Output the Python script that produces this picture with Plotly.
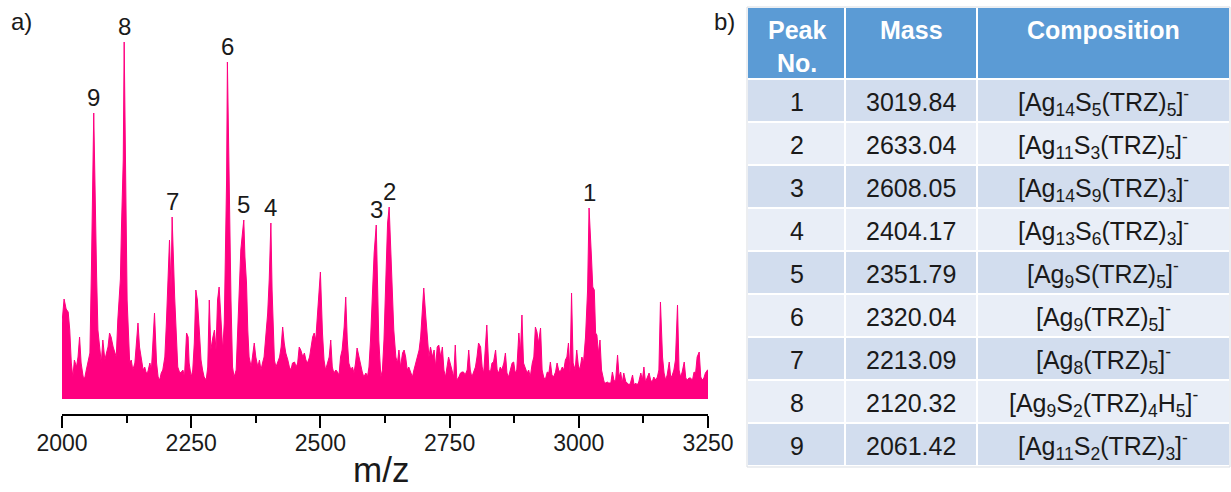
import plotly.graph_objects as go

# ---- ESI-MS spectrum (m/z, intensity in a.u.) ----
mz = [
    2000, 2004, 2008, 2012, 2015, 2018, 2021, 2024, 2028, 2031, 2034, 2037, 2041, 2044, 2047, 2050,
    2054, 2057, 2059, 2060, 2061.42, 2063, 2065, 2067, 2069.5, 2073, 2076, 2079, 2083, 2086, 2089,
    2092, 2095, 2099, 2102, 2105, 2108, 2111, 2113, 2115, 2117, 2118.5, 2120.32, 2122, 2124, 2126,
    2128, 2131, 2134, 2137, 2141, 2144, 2147, 2150, 2153, 2157, 2160, 2163, 2166, 2170, 2173, 2176,
    2179, 2183, 2186, 2189, 2192, 2195, 2199, 2202, 2205, 2208, 2211, 2213.09, 2218, 2221, 2224,
    2228, 2231, 2234, 2237, 2241, 2244, 2246, 2250, 2253, 2256, 2259, 2262, 2266, 2269, 2272, 2275,
    2279, 2282, 2285, 2288, 2292, 2295, 2298, 2301, 2304, 2308, 2311, 2314, 2317, 2318.5, 2320.04,
    2322, 2324.5, 2327, 2330, 2333, 2337, 2340, 2343, 2346, 2349, 2351.79, 2354, 2357, 2359.5, 2362,
    2366, 2369, 2372, 2375, 2379, 2382, 2385, 2388, 2391, 2395, 2398, 2401, 2404.17, 2406.5, 2409,
    2411, 2414, 2417, 2421, 2424, 2427, 2430, 2433, 2437, 2440, 2443, 2446, 2450, 2453, 2456, 2459,
    2462, 2466, 2469, 2472, 2475, 2479, 2482, 2485, 2488, 2491, 2494, 2497, 2500, 2504, 2507, 2510,
    2513, 2517, 2520, 2523, 2526, 2530, 2533, 2536, 2539, 2542, 2546, 2549, 2552, 2555, 2559, 2562,
    2565, 2568, 2571, 2575, 2578, 2581, 2584, 2588, 2591, 2594, 2597, 2600, 2604, 2608.05, 2610,
    2613, 2617, 2620, 2623, 2626, 2630, 2633.04, 2636, 2639, 2642, 2646, 2649, 2652, 2655, 2659,
    2662, 2665, 2668, 2671, 2675, 2678, 2681, 2684, 2688, 2691, 2694, 2697, 2700, 2704, 2707, 2710,
    2713, 2717, 2720, 2723, 2726, 2729, 2733, 2736, 2739, 2742, 2745, 2748, 2751, 2755, 2758, 2761,
    2764, 2768, 2771, 2774, 2777, 2780, 2784, 2787, 2790, 2793, 2797, 2800, 2803, 2806, 2810, 2813,
    2816, 2819, 2822, 2826, 2829, 2832, 2835, 2839, 2842, 2845, 2848, 2851, 2855, 2858, 2861, 2864,
    2868, 2871, 2874, 2877, 2880, 2884, 2887, 2890, 2893, 2897, 2900, 2903, 2906, 2910, 2913, 2916,
    2919, 2922, 2926, 2929, 2932, 2935, 2939, 2942, 2945, 2948, 2951, 2955, 2958, 2961, 2964, 2968,
    2971, 2974, 2977, 2980, 2983, 2986, 2989, 2993, 2996, 2999, 3002, 3006, 3009, 3013, 3017,
    3019.84, 3022, 3024.5, 3027, 3030, 3032.5, 3035, 3038, 3041, 3044, 3049, 3052, 3055, 3058, 3062,
    3065, 3068, 3071, 3075, 3078, 3081, 3084, 3087, 3091, 3094, 3097, 3100, 3104, 3107, 3110, 3113,
    3116, 3120, 3123, 3126, 3129, 3133, 3136, 3139, 3142, 3145, 3149, 3152, 3155, 3158, 3162, 3165,
    3168, 3171, 3175, 3178, 3181, 3184, 3187, 3191, 3194, 3197, 3200, 3204, 3207, 3210, 3213, 3216,
    3220, 3223, 3226, 3229, 3233, 3236, 3239, 3242, 3245, 3249, 3250,
]
intensity = [
    76, 100, 90, 87, 69, 36, 22, 39, 32, 42, 62, 36, 22, 21, 29, 36,
    46, 132, 200, 245, 286, 240, 166, 122, 69, 52, 36, 59, 39, 46, 52,
    66, 62, 52, 46, 42, 79, 109, 120, 170, 215, 239, 357, 240, 186, 99,
    76, 36, 39, 29, 36, 56, 76, 52, 42, 29, 32, 26, 27, 36, 29, 56,
    86, 36, 22, 19, 26, 29, 42, 76, 112, 159, 109, 182, 102, 59, 32,
    26, 27, 29, 22, 66, 62, 36, 22, 29, 56, 109, 99, 66, 39, 29, 22,
    19, 32, 99, 49, 62, 69, 49, 99, 112, 69, 49, 76, 169, 220, 337,
    256, 166, 99, 32, 22, 29, 69, 109, 149, 165, 179, 142, 116, 69, 42,
    32, 46, 56, 42, 32, 39, 29, 36, 42, 67, 86, 120, 176, 109, 69,
    39, 32, 36, 42, 52, 72, 56, 46, 39, 32, 29, 36, 37, 32, 36, 52,
    49, 42, 46, 39, 36, 42, 52, 62, 66, 59, 82, 109, 127, 66, 39, 29,
    36, 42, 59, 32, 26, 29, 27, 24, 42, 49, 72, 102, 59, 36, 29, 32,
    26, 36, 51, 42, 32, 27, 22, 26, 22, 32, 59, 96, 146, 174, 126,
    59, 22, 29, 59, 119, 176, 192, 149, 102, 69, 42, 36, 49, 32, 46,
    49, 42, 29, 32, 27, 22, 29, 36, 42, 49, 62, 82, 111, 82, 56, 42,
    52, 42, 49, 32, 52, 54, 42, 52, 29, 22, 32, 42, 36, 29, 22, 54,
    19, 22, 26, 27, 27, 24, 29, 49, 29, 22, 29, 32, 42, 56, 52, 32,
    26, 46, 74, 29, 27, 36, 37, 49, 29, 26, 32, 29, 36, 46, 26, 22,
    29, 36, 37, 26, 29, 66, 46, 84, 36, 29, 26, 29, 22, 36, 42, 72,
    67, 56, 71, 29, 22, 19, 27, 26, 37, 24, 22, 27, 36, 29, 27, 32,
    29, 39, 42, 56, 26, 106, 36, 29, 49, 34, 29, 42, 36, 62, 109,
    191, 159, 142, 112, 109, 66, 64, 46, 59, 29, 17, 16, 17, 16, 16,
    27, 19, 17, 44, 22, 27, 16, 26, 17, 16, 14, 16, 24, 14, 16, 14,
    17, 26, 19, 32, 17, 22, 26, 19, 17, 22, 19, 22, 29, 97, 42, 26,
    19, 24, 37, 21, 24, 29, 39, 94, 29, 22, 27, 37, 21, 19, 21, 21,
    19, 27, 26, 42, 47, 22, 19, 21, 26, 29, 29,
]

# ---- assigned peaks ----
peak_no = [1, 2, 3, 4, 5, 6, 7, 8, 9]
peak_mass = [3019.84, 2633.04, 2608.05, 2404.17, 2351.79, 2320.04, 2213.09, 2120.32, 2061.42]
composition = [
    "[Ag<sub>14</sub>S<sub>5</sub>(TRZ)<sub>5</sub>]<sup>-</sup>",
    "[Ag<sub>11</sub>S<sub>3</sub>(TRZ)<sub>5</sub>]<sup>-</sup>",
    "[Ag<sub>14</sub>S<sub>9</sub>(TRZ)<sub>3</sub>]<sup>-</sup>",
    "[Ag<sub>13</sub>S<sub>6</sub>(TRZ)<sub>3</sub>]<sup>-</sup>",
    "[Ag<sub>9</sub>S(TRZ)<sub>5</sub>]<sup>-</sup>",
    "[Ag<sub>9</sub>(TRZ)<sub>5</sub>]<sup>-</sup>",
    "[Ag<sub>8</sub>(TRZ)<sub>5</sub>]<sup>-</sup>",
    "[Ag<sub>9</sub>S<sub>2</sub>(TRZ)<sub>4</sub>H<sub>5</sub>]<sup>-</sup>",
    "[Ag<sub>11</sub>S<sub>2</sub>(TRZ)<sub>3</sub>]<sup>-</sup>",
]
table_header = ["Peak<br>No.", "Mass", "Composition"]
tick_vals = [2000, 2250, 2500, 2750, 3000, 3250]

W, H = 1231, 492
FONT = "Arial, Liberation Sans, sans-serif"
PINK = "#ff0080"
INK = "#1a1a1a"

fig = go.Figure()

fig.add_trace(go.Scatter(
    x=mz, y=intensity, mode="lines",
    line=dict(color=PINK, width=1),
    fill="tozeroy", fillcolor=PINK,
    hoverinfo="x+y", showlegend=False,
))

# peak numbers above the assigned signals
for n, m in zip(peak_no, peak_mass):
    fig.add_annotation(
        x=m, y=intensity[mz.index(m)], xref="x", yref="y",
        text=str(n), showarrow=False, xanchor="center", yanchor="bottom",
        font=dict(family=FONT, size=24, color=INK),
    )

# ---- assignment table (paper pixels -> fractions) ----
def px(x):
    return x / W


def py(y):
    return 1 - y / H


col_edges = [748, 845, 977, 1229]
tbl_top, head_bot, row_h = 8, 79, 43
n_rows = len(peak_no)
tbl_bot = head_bot + n_rows * row_h
gap = 1  # half of the white grid line

fig.add_shape(type="rect", xref="paper", yref="paper",
              x0=px(col_edges[0] - 1), x1=px(col_edges[-1] + 1),
              y0=py(tbl_bot + 1), y1=py(tbl_top - 1),
              line=dict(color="#d9dde3", width=1), fillcolor="white", layer="below")

for c in range(3):
    x0, x1 = col_edges[c], col_edges[c + 1]
    fig.add_shape(type="rect", xref="paper", yref="paper",
                  x0=px(x0 + (gap if c else 0)), x1=px(x1 - (gap if c < 2 else 0)),
                  y0=py(head_bot - gap), y1=py(tbl_top),
                  line=dict(width=0), fillcolor="#5b9bd5", layer="below")
    # header text sits at the top of the header cell
    fig.add_annotation(x=px((x0 + x1) / 2), y=py(14), xref="paper", yref="paper",
                       text=f"<b>{table_header[c]}</b>", showarrow=False,
                       xanchor="center", yanchor="top",
                       font=dict(family=FONT, size=25, color="white"))

row_values = [[str(n) for n in peak_no], [f"{v:.2f}" for v in peak_mass], composition]
for r in range(n_rows):
    y0 = head_bot + r * row_h
    fill = "#d2ddee" if r % 2 == 0 else "#e9eef7"
    for c in range(3):
        x0, x1 = col_edges[c], col_edges[c + 1]
        fig.add_shape(type="rect", xref="paper", yref="paper",
                      x0=px(x0 + (gap if c else 0)), x1=px(x1 - (gap if c < 2 else 0)),
                      y0=py(y0 + row_h - gap), y1=py(y0 + gap),
                      line=dict(width=0), fillcolor=fill, layer="below")
        fig.add_annotation(x=px((x0 + x1) / 2), y=py(y0 + row_h / 2 + 1),
                           xref="paper", yref="paper",
                           text=row_values[c][r], showarrow=False,
                           xanchor="center", yanchor="middle",
                           font=dict(family=FONT, size=25, color=INK))

fig.update_layout(
    width=W, height=H,
    margin=dict(l=0, r=0, t=0, b=0, autoexpand=False),
    paper_bgcolor="white", plot_bgcolor="white",
    xaxis=dict(
        domain=[px(62), px(708)], range=[2000, 3250],
        showline=True, linecolor="black", linewidth=1.5,
        ticks="outside", ticklen=12, tickwidth=1.5, tickcolor="black",
        ticklabelstandoff=-4,
        tickvals=tick_vals, ticktext=[str(v) for v in tick_vals],
        tickfont=dict(family=FONT, size=23, color=INK),
        minor=dict(dtick=125, tick0=2000, ticks="outside", ticklen=7,
                   tickwidth=1.5, tickcolor="black"),
        showgrid=False, zeroline=False, fixedrange=True,
    ),
    # 1 intensity unit = 1 px; the axis line sits 15 px below the baseline
    yaxis=dict(
        domain=[py(414), 1], range=[-15, 399],
        visible=False, showgrid=False, zeroline=False, fixedrange=True,
    ),
)

fig.add_annotation(x=px(381), y=py(469), xref="paper", yref="paper",
                   text="m/z", showarrow=False, xanchor="center", yanchor="middle",
                   font=dict(family=FONT, size=35, color=INK))
fig.add_annotation(x=px(9), y=py(22), xref="paper", yref="paper",
                   text="a)", showarrow=False, xanchor="left", yanchor="middle",
                   font=dict(family=FONT, size=24, color=INK))
fig.add_annotation(x=px(712), y=py(22), xref="paper", yref="paper",
                   text="b)", showarrow=False, xanchor="left", yanchor="middle",
                   font=dict(family=FONT, size=24, color=INK))

fig.write_html("out.html")
